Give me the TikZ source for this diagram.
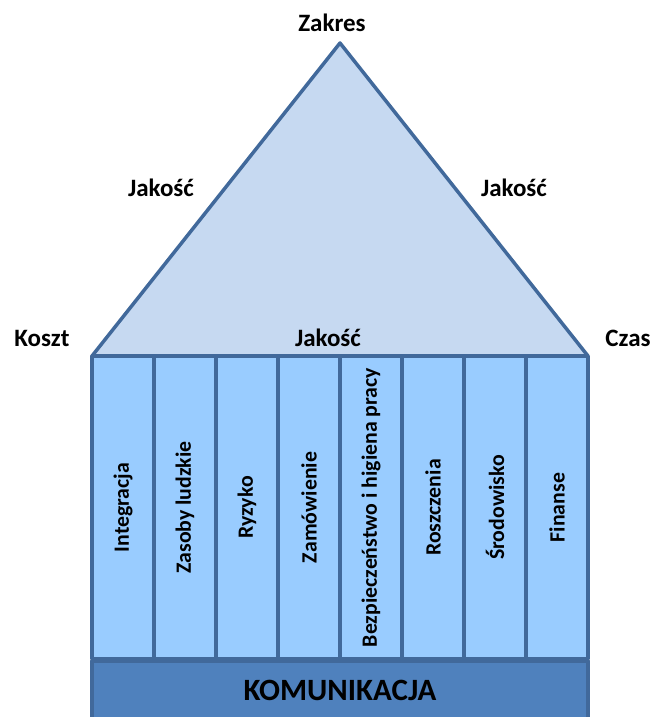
\documentclass[tikz,border=0pt]{standalone}
\usepackage{fontspec}
\setmainfont{Carlito}
\begin{document}
\definecolor{edge}{HTML}{41699B}
\definecolor{roof}{HTML}{C6D9F1}
\definecolor{pillar}{HTML}{99CCFF}
\definecolor{basebar}{HTML}{4F81BD}
\begin{tikzpicture}[x=1pt,y=-1pt,
  outline/.style={draw=edge,line width=3.5pt,line join=round},
  corner/.style={font=\bfseries\fontsize{25}{28}\selectfont,inner sep=0pt},
  pillarbox/.style={outline,fill=pillar,rotate=90,minimum width=303pt,minimum height=62pt,
    inner sep=0pt,font=\bfseries\fontsize{21.8}{24}\selectfont},
  foundation/.style={outline,fill=basebar,minimum width=496pt,minimum height=60pt,
    inner sep=0pt,font=\bfseries\fontsize{31}{34}\selectfont}]
\useasboundingbox (0,0) rectangle (655,717);
% roof
\coordinate (apex) at (340,43);
\coordinate (left) at (92,356);
\coordinate (right) at (588,356);
\draw[outline,fill=roof] (left) -- (apex) -- (right) -- cycle;
% pillars
\foreach \t [count=\i from 0] in {Integracja,Zasoby ludzkie,Ryzyko,Zamówienie,
  Bezpieczeństwo i higiena pracy,Roszczenia,Środowisko,Finanse}
  \node[pillarbox] (p\i) at ({123+62*\i},507.5) {\t};
% foundation
\node[foundation,anchor=north] (base) at (340,659) {\raisebox{-4pt}{KOMUNIKACJA}};
% labels
\node[corner] (zakres) at (332,23) {Zakres};
\node[corner] (jl) at (161,188) {Jakość};
\node[corner] (jr) at (514,188) {Jakość};
\node[corner] (koszt) at (42,338) {Koszt};
\node[corner] (jm) at (328,338) {Jakość};
\node[corner] (czas) at (628,338) {Czas};
\end{tikzpicture}
\end{document}
